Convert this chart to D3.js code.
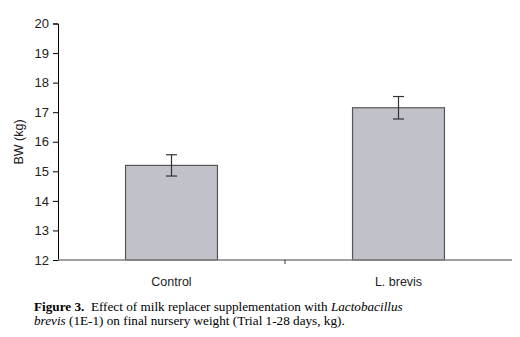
<!DOCTYPE html>
<html>
<head>
<meta charset="utf-8">
<script src="https://cdn.jsdelivr.net/npm/d3@7"></script>
<style>
  body { margin: 0; background: #fff; }
  svg { display: block; }
</style>
</head>
<body>
<svg id="canvas" width="520" height="337"></svg>
<script>
// chart values
let groups = ['Control', 'L. brevis'];
let means = [15.2, 17.15];
let errs = [0.36, 0.38];
let yTicks = [12, 13, 14, 15, 16, 17, 18, 19, 20];

let canvas = d3.select('#canvas');

// plot area
let plotLeft = 58, plotRight = 512, plotTop = 23.5, plotBottom = 260;

let x = d3.scaleBand()
    .domain(groups)
    .range([plotLeft, plotRight])
    .paddingInner(0.595)
    .paddingOuter(0.2975);
let xc = d3.scaleBand().domain(groups).range([plotLeft, plotRight]);

let y = d3.scaleLinear()
    .domain([12, 20])
    .range([plotBottom, plotTop]);

// y axis
let yAxis = canvas.append('g')
    .attr('transform', `translate(${plotLeft},0)`)
    .call(d3.axisLeft(y).tickValues(yTicks).tickSize(5).tickPadding(4));
yAxis.select('.domain').attr('stroke', '#000');
yAxis.selectAll('.tick line').attr('stroke', '#000');
yAxis.selectAll('.tick text')
    .style('font', '13px "Liberation Sans", Arial, sans-serif')
    .attr('fill', '#222');

// bars
canvas.selectAll('rect.bar')
    .data(groups)
    .enter()
    .append('rect')
    .attr('class', 'bar')
    .attr('x', d => x(d))
    .attr('width', x.bandwidth())
    .attr('y', (d, i) => y(means[i]))
    .attr('height', (d, i) => y(12) - y(means[i]))
    .attr('fill', '#c0c1c9')
    .attr('stroke', '#555')
    .attr('stroke-width', 1.2);

// x axis (grey baseline)
canvas.append('line')
    .attr('x1', plotLeft).attr('x2', plotRight)
    .attr('y1', plotBottom).attr('y2', plotBottom)
    .attr('stroke', '#808080')
    .attr('stroke-width', 1.5);

// category divider tick
canvas.append('line')
    .attr('x1', xc(groups[1])).attr('x2', xc(groups[1]))
    .attr('y1', plotBottom).attr('y2', plotBottom + 4)
    .attr('stroke', '#333');

// error bars
let eb = canvas.selectAll('g.err')
    .data(groups)
    .enter()
    .append('g')
    .attr('class', 'err')
    .attr('stroke', '#333')
    .attr('stroke-width', 1.2);
eb.append('line')
    .attr('x1', d => x(d) + x.bandwidth() / 2)
    .attr('x2', d => x(d) + x.bandwidth() / 2)
    .attr('y1', (d, i) => y(means[i] + errs[i]))
    .attr('y2', (d, i) => y(means[i] - errs[i]));
eb.append('line')
    .attr('x1', d => x(d) + x.bandwidth() / 2 - 5.5)
    .attr('x2', d => x(d) + x.bandwidth() / 2 + 5.5)
    .attr('y1', (d, i) => y(means[i] + errs[i]))
    .attr('y2', (d, i) => y(means[i] + errs[i]));
eb.append('line')
    .attr('x1', d => x(d) + x.bandwidth() / 2 - 5.5)
    .attr('x2', d => x(d) + x.bandwidth() / 2 + 5.5)
    .attr('y1', (d, i) => y(means[i] - errs[i]))
    .attr('y2', (d, i) => y(means[i] - errs[i]));

// category labels
canvas.selectAll('text.cat')
    .data(groups)
    .enter()
    .append('text')
    .attr('class', 'cat')
    .attr('x', d => x(d) + x.bandwidth() / 2)
    .attr('y', 286)
    .attr('text-anchor', 'middle')
    .attr('fill', '#222')
    .style('font', '12.5px "Liberation Sans", Arial, sans-serif')
    .text(d => d);

// y label
canvas.append('text')
    .attr('transform', 'translate(23,142) rotate(-90)')
    .attr('text-anchor', 'middle')
    .attr('fill', '#222')
    .style('font', '12.5px "Liberation Sans", Arial, sans-serif')
    .text('BW (kg)');

// caption
let cap = canvas.append('text')
    .style('font', '13.2px "Liberation Serif", "Times New Roman", serif')
    .attr('fill', '#000');
let l1 = cap.append('tspan').attr('x', 34).attr('y', 311);
l1.append('tspan').style('font-weight', 'bold').text('Figure 3.');
l1.append('tspan').text('\u00a0 Effect of milk replacer supplementation with ');
l1.append('tspan').style('font-style', 'italic').text('Lactobacillus');
let l2 = cap.append('tspan').attr('x', 34).attr('y', 325);
l2.append('tspan').style('font-style', 'italic').text('brevis');
l2.append('tspan').text(' (1E-1) on final nursery weight (Trial 1-28 days, kg).');
</script>
</body>
</html>
